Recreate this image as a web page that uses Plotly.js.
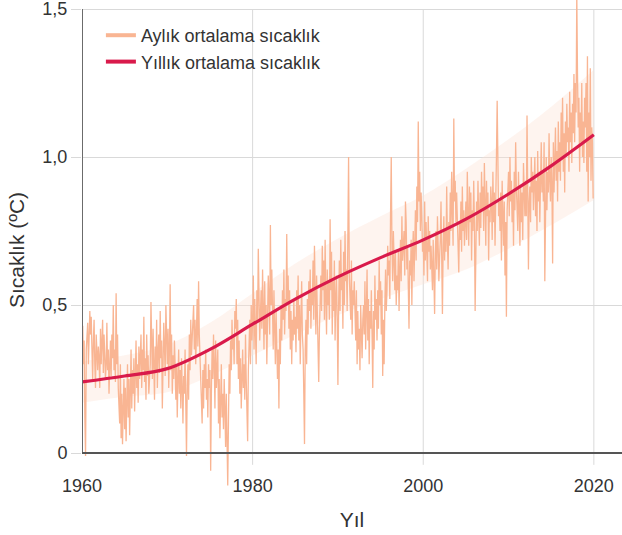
<!DOCTYPE html>
<html>
<head>
<meta charset="utf-8">
<script src="https://cdn.plot.ly/plotly-3.0.1.min.js"></script>
<style>html,body{margin:0;padding:0;background:#fff;}#chart{width:622px;height:535px;}</style>
</head>
<body>
<div id="chart"></div>
<script>
// Monthly values, one row per year (Jan..Dec), 1960–2019
const startYear = 1960;
const monthlyRows = [
  [.27,.43,.30,.38,.12,-.01,.35,.40,.44,.30,.42,.48], // 1960
  [.40,.46,.35,.25,.38,.45,.30,.22,.40,.33,.28,.36],
  [.32,.22,.42,.30,.36,.45,.27,.40,.33,.25,.30,.44],
  [.28,.35,.20,.30,.38,.26,.40,.32,.50,.28,.35,.24],
  [.54,.30,.40,.22,.18,.10,.30,.05,.20,.03,.15,.25],
  [.08,.22,.04,.18,.30,.12,.25,.06,.20,.35,.15,.28], // 1965
  [.20,.32,.14,.26,.38,.22,.30,.17,.36,.25,.30,.40],
  [.22,.35,.28,.46,.24,.32,.18,.40,.26,.33,.20,.28],
  [.30,.51,.35,.25,.42,.30,.18,.36,.28,.45,.22,.34],
  [.40,.27,.48,.32,.38,.15,.30,.44,.36,.26,.50,.35],
  [.30,.42,.22,.35,.57,.28,.40,.20,.33,.25,.38,.30], // 1970
  [.18,.30,.12,.25,.35,.20,.28,.15,.32,.22,.10,.26],
  [.20,.35,.05,-.01,.22,.30,.18,.40,.28,.45,.33,.38],
  [.42,.50,.35,.45,.30,.38,.52,.36,.58,.40,.30,.25],
  [.20,.10,.28,.15,.30,.22,.35,.18,.25,.12,.30,.22],
  [.28,-.06,.20,.35,.25,.40,.30,.15,.38,.22,.28,.35], // 1975
  [.10,.25,.05,.18,.30,.12,.20,.08,.25,.15,.02,.20],
  [.05,-.11,.10,.30,.20,.38,.28,.45,.35,.40,.30,.48],
  [.42,.52,.30,.45,.25,.38,.20,.32,.15,.28,.35,.22],
  [.30,.18,.40,.25,.10,.04,.28,.35,.45,.30,.50,.38],
  [.44,.60,.35,.52,.40,.30,.55,.45,.69,.50,.38,.47], // 1980
  [.55,.42,.62,.48,.35,.58,.40,.50,.30,.45,.60,.52],
  [.40,.77,.50,.62,.45,.35,.55,.42,.30,.48,.38,.25],
  [.35,.15,.42,.30,.50,.38,.55,.45,.62,.40,.52,.48],
  [.74,.50,.60,.42,.55,.35,.48,.30,.45,.38,.52,.40],
  [.46,.34,.55,.42,.60,.38,.50,.30,.45,.58,.40,.35], // 1985
  [.20,.03,.35,.45,.30,.52,.40,.58,.48,.62,.42,.55],
  [.50,.65,.45,.70,.55,.40,.60,.48,.35,.24,.42,.52],
  [.60,.48,.70,.55,.65,.45,.72,.52,.40,.62,.50,.58],
  [.45,.79,.55,.68,.40,.58,.48,.65,.38,.52,.60,.45],
  [.23,.50,.65,.48,.72,.55,.60,.42,.68,.50,.75,.58], // 1990
  [.62,.48,.70,1.0,.60,.52,.45,.65,.40,.55,.50,.58],
  [.45,.38,.55,.30,.48,.35,.42,.28,.50,.40,.32,.45],
  [.50,.40,.58,.35,.45,.62,.38,.52,.30,.48,.42,.55],
  [.40,.22,.48,.35,.60,.45,.52,.38,.55,.42,.65,.50],
  [.58,.40,.55,.26,.45,.30,.50,.62,.48,.55,.70,.60], // 1995
  [.65,.52,.80,1.0,.70,.58,.75,.62,.55,.68,.50,.60],
  [.55,.68,.48,.62,.72,.58,.80,.65,.70,.75,.60,.85],
  [.78,.62,.70,.55,.42,.65,.60,.72,.50,.68,.75,.58],
  [.70,.82,.65,.90,.78,1.12,.85,.95,.75,.88,.80,.68],
  [.72,.60,.85,.65,.78,.70,.58,.80,.68,.75,.62,.70], // 2000
  [.65,.55,.72,.60,.47,.68,.75,.62,.80,.70,.58,.66],
  [.72,.85,.60,.47,.70,.80,.65,.75,.68,.90,.72,.62],
  [.78,.70,.88,.75,.95,.82,.70,1.13,.85,.92,.78,.88],
  [.80,.70,.61,.78,.72,.85,.68,.90,.75,.82,.70,.78],
  [.85,.72,.95,.80,.70,.90,.78,.88,.65,.82,.75,.92], // 2005
  [.78,.48,.70,.85,.75,.92,.80,.70,.88,.76,.95,.82],
  [.90,.75,.98,.85,.70,.92,.80,.88,.65,.82,.78,.90],
  [.85,.72,.95,.78,.88,.70,.82,1.0,1.19,.90,.80,.85],
  [.75,.88,.65,.92,.80,.70,.85,.60,.78,.46,.82,.90],
  [.95,.80,1.0,.85,.92,.78,.88,.70,.95,.82,1.05,.90], // 2010
  [.85,.75,.95,.82,.70,.90,.78,.88,.72,.98,.85,.80],
  [.92,.80,1.14,.95,.62,.85,.90,.78,1.0,.88,.95,.82],
  [.88,1.0,.80,.92,.75,1.02,.85,.95,.78,.90,1.05,.88],
  [.95,.85,1.05,.58,.90,1.0,.82,.95,.88,1.08,.92,.85],
  [1.0,.90,.64,1.05,.88,.98,1.1,.92,1.02,.85,1.12,.95], // 2015
  [1.05,.92,1.15,1.0,1.2,.95,1.08,.88,1.12,1.0,1.18,1.05],
  [1.1,.95,1.22,1.05,1.15,.98,1.18,1.08,1.28,1.05,1.25,1.15],
  [1.55,1.28,1.1,1.2,.95,1.15,1.05,1.25,1.0,1.12,.98,1.2],
  [1.1,1.25,.95,1.34,.85,1.15,1.0,1.3,.92,1.1,1.05,.86]  // 2019
];

// Smoothed yearly trend and its band
const trendYears = [1960,1965,1970,1975,1980,1985,1990,1995,2000,2005,2010,2015,2020];
const trendValues = [0.24,0.26,0.285,0.35,0.435,0.52,0.595,0.66,0.72,0.79,0.875,0.97,1.075];
const bandLower = [0.17,0.19,0.205,0.26,0.33,0.40,0.465,0.52,0.57,0.62,0.69,0.77,0.855];
const bandUpper = [0.31,0.33,0.365,0.44,0.54,0.64,0.725,0.80,0.87,0.96,1.06,1.17,1.295];

const xTickVals = [1960,1980,2000,2020];
const xTickText = ['1960','1980','2000','2020'];
const yTickVals = [0,0.5,1,1.5];
const yTickText = ['0','0,5','1,0','1,5'];

const monthlyX = [], monthlyY = [];
monthlyRows.forEach((row, yi) => row.forEach((v, mi) => {
  monthlyX.push(startYear + yi + mi / 12);
  monthlyY.push(v);
}));

const FONT = 'Liberation Sans, Arial, sans-serif';
const MONTH_COLOR = '#f9b593';
const TREND_COLOR = '#d91a4b';
const traces = [
  {x: trendYears, y: bandLower, type: 'scatter', mode: 'lines', line: {width: 0, shape: 'spline'},
   showlegend: false, hoverinfo: 'skip'},
  {x: trendYears, y: bandUpper, type: 'scatter', mode: 'lines', line: {width: 0, shape: 'spline'},
   fill: 'tonexty', fillcolor: 'rgba(252,226,212,0.38)', showlegend: false, hoverinfo: 'skip'},
  {x: monthlyX, y: monthlyY, type: 'scatter', mode: 'lines', name: 'Aylık ortalama sıcaklık',
   legendgroup: 'aylik', showlegend: false, line: {color: MONTH_COLOR, width: 1.3}},
  {x: trendYears, y: trendValues, type: 'scatter', mode: 'lines', name: 'Yıllık ortalama sıcaklık',
   legendgroup: 'yillik', showlegend: false, line: {color: TREND_COLOR, width: 3.2, shape: 'spline'}},
  // legend entries (thick key lines as in the reference)
  {x: [null], y: [null], type: 'scatter', mode: 'lines', name: 'Aylık ortalama sıcaklık',
   legendgroup: 'aylik', line: {color: MONTH_COLOR, width: 4}},
  {x: [null], y: [null], type: 'scatter', mode: 'lines', name: 'Yıllık ortalama sıcaklık',
   legendgroup: 'yillik', line: {color: TREND_COLOR, width: 4}}
];

const xMax = 2023.3;
const shapes = [];
[1980, 2000, 2020].forEach(v => shapes.push({type: 'line', xref: 'x', yref: 'y', x0: v, x1: v, y0: -0.04, y1: 1.5,
  line: {color: '#d9d9d9', width: 1}, layer: 'below'}));
shapes.push({type: 'line', xref: 'x', yref: 'y', x0: 1960, x1: 1960, y0: 0, y1: 1.5, line: {color: '#6b6b6b', width: 2}});
shapes.push({type: 'line', xref: 'x', yref: 'y', x0: 1960, x1: xMax, y0: 0, y1: 0, line: {color: '#555555', width: 2}});

const layout = {
  width: 622, height: 535,
  margin: {l: 82, r: 0, t: 0, b: 35},
  paper_bgcolor: '#fff', plot_bgcolor: '#fff',
  font: {family: FONT, size: 18, color: '#333'},
  showlegend: true,
  legend: {x: 0.035, y: 0.966, xanchor: 'left', yanchor: 'top', bgcolor: 'rgba(0,0,0,0)', traceorder: 'normal',
    font: {family: FONT, size: 18, color: '#333'}, tracegroupgap: 0},
  xaxis: {range: [1960, xMax], tickvals: xTickVals, ticktext: xTickText, showgrid: false, showline: false,
    zeroline: false, ticks: '', ticklabelstandoff: -27, tickfont: {family: FONT, size: 18, color: '#333'},
    title: {text: 'Yıl', font: {family: FONT, size: 21, color: '#333'}, standoff: 17}, fixedrange: true},
  yaxis: {range: [-0.1588, 1.5304], tickvals: yTickVals, ticktext: yTickText, showgrid: true, gridcolor: '#d9d9d9',
    gridwidth: 1, zeroline: false, showline: false, ticks: 'outside', ticklen: 10, tickcolor: '#d9d9d9',
    ticklabeloverflow: 'allow',
    tickfont: {family: FONT, size: 18, color: '#333'},
    title: {text: 'Sıcaklık (ºC)', font: {family: FONT, size: 21, color: '#333'}, standoff: 12}, fixedrange: true},
  shapes: shapes
};

Plotly.newPlot('chart', traces, layout, {displayModeBar: false, staticPlot: true});
</script>
</body>
</html>
